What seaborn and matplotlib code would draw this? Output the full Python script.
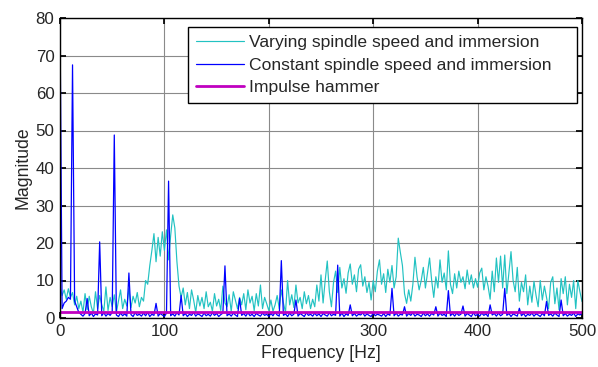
import numpy as np
import pandas as pd
import matplotlib
matplotlib.use("Agg")
import matplotlib.pyplot as plt
import seaborn as sns

# Frequency grid (Hz), 2 Hz spacing
freq = list(range(0, 501, 2))

varying = [
    8.4, 6, 7.5, 5, 7.8,  5.5, 6.8, 3.5, 5.8, 2.5,
    4.5, 1.5, 6.5, 2.2, 5.8,  3, 1.2, 7, 2.5, 6,
    3.5, 1.8, 8.3, 2, 5.5,  3, 6.2, 1.5, 4.5, 7.5,
    2.5, 5, 3.2, 7.8, 2.8,  5.8, 4, 6.8, 3, 5.5,
    4.5, 10, 9, 14, 18,  22.5, 15, 21.5, 16.5, 23,
    18, 23.5, 15.5, 22, 27.5,  24, 15, 8.5, 5.5, 8,
    3.5, 6.8, 2.5, 7.5, 4.8,  1.5, 6, 3.2, 5.5, 2.5,
    7, 3, 4.2, 1.8, 6.5,  3.2, 5, 2, 8.5, 4,
    3, 6.2, 1.8, 7, 4.8,  2.5, 5.5, 3.5, 6.5, 2.2,
    7.5, 4, 5.8, 2, 6.5,  3.2, 8.8, 2.5, 5.5, 3.8,
    2, 4.8, 1.8, 3.5, 6,  2.5, 7.5, 4, 1.5, 10,
    3.5, 6.2, 2.8, 8.8, 4,  5.5, 2.5, 7, 3.8, 6,
    2.5, 5, 3, 8.8, 4.5,  11.5, 4, 10, 15.2, 7,
    3, 9.5, 12.5, 6.8, 13.5,  8, 10.5, 6.6, 12, 14.4,
    9, 11.5, 7, 13, 14.2,  8.5, 11, 6.8, 9.5, 4.8,
    10, 7, 12.5, 15.5, 9,  11.8, 6.8, 13, 9.5, 14,
    8, 11, 21.3, 17.5, 14,  6.5, 3.9, 7.5, 4.5, 9,
    16.2, 11, 7.5, 10, 13.5,  8, 12, 16, 10, 5.5,
    11, 8, 15.5, 9.5, 12,  7.5, 17.9, 9, 6.5, 11.8,
    8, 12.5, 9.5, 11, 7.8,  12.8, 9, 11.5, 8, 10.5,
    8.2, 12, 13.3, 7.5, 11,  8.5, 5, 12.5, 7, 16,
    9.5, 16.5, 8, 16.8, 6.5,  12, 17.7, 10, 7, 13.5,
    4.5, 9.5, 7, 11.5, 3.5,  8.5, 4.2, 9.8, 6, 3,
    10, 4.8, 8.5, 5.5, 2.5,  9.5, 11, 3.8, 8, 2.2,
    10.5, 6.5, 11, 3.5, 9,  5.5, 10, 2.5, 10, 7,
    4.4,
]

constant = [
    80, 2.5, 4, 4.5, 5.5,  5, 67.5, 4.5, 3, 1.5,
    1, 0.5, 1.2, 5.2, 0.6,  1.3, 0.4, 1.1, 0.8, 20.3,
    0.6, 1.4, 0.5, 1.2, 0.7,  1.5, 48.8, 0.8, 0.4, 1.3,
    0.6, 1.1, 0.5, 12, 0.9,  0.4, 1.4, 0.7, 1, 0.5,
    1.3, 0.6, 1.5, 0.4, 1,  0.7, 3.9, 0.5, 1.2, 0.8,
    0.4, 1.3, 36.5, 0.6, 1.1,  0.5, 1.4, 0.8, 6, 0.6,
    1.2, 0.4, 1, 0.7, 1.5,  0.5, 1.1, 0.8, 0.4, 1.3,
    0.6, 1, 0.5, 1.4, 0.7,  1.2, 0.4, 0.9, 1.3, 13.9,
    0.6, 1.1, 0.5, 1.3, 0.8,  0.4, 5.2, 0.7, 1.2, 0.5,
    1.4, 0.6, 1, 0.4, 1.2,  0.8, 0.5, 1.3, 0.7, 1,
    0.4, 1.2, 0.6, 1.5, 0.8,  0.5, 15.3, 0.7, 1.1, 0.4,
    1.3, 0.6, 1, 4.8, 0.5,  1.2, 0.8, 0.4, 1.4, 0.7,
    1, 0.5, 1.3, 0.6, 1.1,  0.4, 1.2, 0.8, 0.5, 1.4,
    0.6, 1, 0.7, 14.1, 0.5,  1.3, 0.4, 1.1, 0.7, 3.5,
    0.6, 1.2, 0.5, 1, 0.8,  1.4, 0.5, 1.1, 0.7, 0.4,
    1.3, 0.6, 1, 0.8, 0.5,  1.2, 0.4, 1.1, 0.7, 7.9,
    0.6, 1.3, 0.5, 1, 0.8,  3, 0.5, 1.2, 0.7, 1.4,
    0.5, 1, 0.8, 0.4, 1.3,  0.6, 1.1, 0.5, 1.2, 0.8,
    3, 0.5, 1.3, 0.7, 1,  0.4, 7.3, 0.6, 1.2, 0.5,
    1.3, 0.7, 1, 3.2, 0.5,  1.2, 0.8, 0.4, 1.4, 0.6,
    1, 0.5, 1.3, 0.7, 1.1,  0.4, 3.5, 0.8, 1.2, 0.5,
    1.3, 0.6, 1, 7.9, 0.7,  1.2, 0.4, 1.1, 0.8, 0.5,
    2.6, 0.6, 1.2, 0.4, 1,  0.7, 1.3, 0.5, 1.1, 0.8,
    0.4, 1.2, 0.6, 4.4, 0.7,  1.1, 0.5, 1.3, 0.8, 0.4,
    4.8, 0.6, 1.2, 0.5, 1,  0.7, 1.3, 0.4, 1.1, 0.8,
    1.2,
]

hammer_freq = [0, 500]
hammer = [1.7, 1.7]

labels = ["Varying spindle speed and immersion",
          "Constant spindle speed and immersion",
          "Impulse hammer"]
x_ticks = [0, 100, 200, 300, 400, 500]
y_ticks = [0, 10, 20, 30, 40, 50, 60, 70, 80]

sns.set_theme(style="white")
plt.rcParams['font.family'] = ['Liberation Sans', 'DejaVu Sans']

fig = plt.figure(figsize=(5.98, 3.67), dpi=100)
ax = fig.add_axes([60/598, 49/367, 522/598, 300/367])

df_v = pd.DataFrame({"f": freq, "m": varying})
df_c = pd.DataFrame({"f": freq, "m": constant})
df_h = pd.DataFrame({"f": hammer_freq, "m": hammer})

sns.lineplot(data=df_v, x="f", y="m", ax=ax, color="#22C2C2", lw=0.85,
             label=labels[0], sort=False, estimator=None)
sns.lineplot(data=df_c, x="f", y="m", ax=ax, color="#0000FF", lw=0.9,
             label=labels[1], sort=False, estimator=None)
sns.lineplot(data=df_h, x="f", y="m", ax=ax, color="#C000C0", lw=2.0,
             label=labels[2], sort=False, estimator=None)

ax.set_xlim(0, 500)
ax.set_ylim(0, 80)
ax.set_xticks(x_ticks)
ax.set_yticks(y_ticks)
ax.set_xlabel("Frequency [Hz]", fontsize=12.7, labelpad=5)
ax.set_ylabel("Magnitude", fontsize=12.7, labelpad=3)
ax.tick_params(axis='both', labelsize=12.2, direction='in', length=4,
               top=True, right=True, bottom=True, left=True, color='black', pad=4)
ax.grid(True, color='#8a8a8a', lw=0.8, ls='-')
ax.set_axisbelow(True)
for s in ax.spines.values():
    s.set_color('black')
    s.set_linewidth(1.0)
    s.set_visible(True)

leg_x0 = (188 - 60) / 522
leg_w = (577 - 188) / 522
leg = ax.legend(loc='upper left', bbox_to_anchor=(leg_x0, 0, leg_w, 0.97),
                mode='expand', fontsize=12.6,
                frameon=True, fancybox=False, framealpha=1, edgecolor='black',
                handlelength=2.75, handletextpad=0.3, borderpad=0.45,
                labelspacing=0.42, borderaxespad=0)
leg.get_frame().set_linewidth(1.0)

fig.savefig("out.png", dpi=100)
